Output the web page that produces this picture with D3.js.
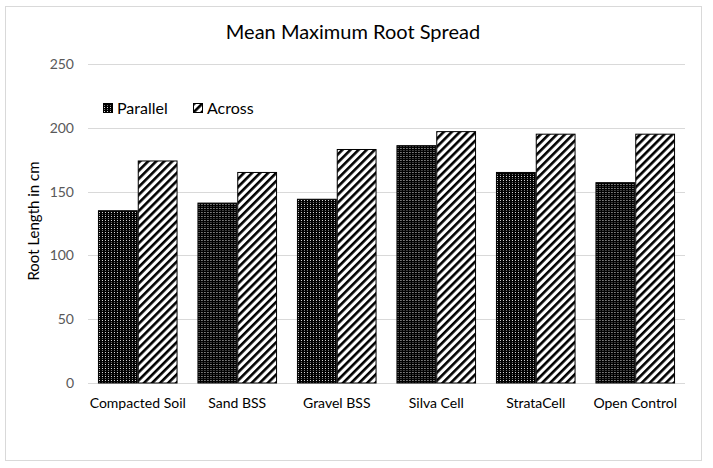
<!DOCTYPE html>
<html><head><meta charset="utf-8">
<script src="https://cdn.jsdelivr.net/npm/d3@7"></script>
<style>body{margin:0;background:#fff}svg{display:block}</style>
</head><body>
<svg id="c" width="713" height="468"></svg>
<script>
const categories = ["Compacted Soil","Sand BSS","Gravel BSS","Silva Cell","StrataCell","Open Control"];
const seriesNames = ["Parallel","Across"];
const parallel = [135, 141, 144, 186, 165, 157];
const across = [174, 165, 183, 197, 195, 195];
const yTicks = [0,50,100,150,200,250];

const svg = d3.select("#c");
const font = "Lato, 'Open Sans', sans-serif";
const defs = svg.append("defs");
const p1 = defs.append("pattern").attr("id","pPar").attr("patternUnits","userSpaceOnUse")
  .attr("width",3).attr("height",4);
p1.append("rect").attr("width",3).attr("height",4).attr("fill","#000");
p1.append("rect").attr("x",1).attr("y",0).attr("width",1).attr("height",1).attr("fill","#ddd");
p1.append("rect").attr("x",1).attr("y",2).attr("width",1).attr("height",1).attr("fill","#777");
const p2 = defs.append("pattern").attr("id","pAcr").attr("patternUnits","userSpaceOnUse")
  .attr("width",5.7).attr("height",5.7).attr("patternTransform","rotate(45)");
p2.append("rect").attr("width",5.7).attr("height",5.7).attr("fill","#fff");
p2.append("rect").attr("width",2.6).attr("height",5.7).attr("fill","#000");
const fills = ["url(#pPar)","url(#pAcr)"];

svg.append("rect").attr("x",5.5).attr("y",6.5).attr("width",696).attr("height",454)
  .attr("fill","#fff").attr("stroke","#d9d9d9");

const L = 88, R = 685, T = 64, B = 383;
const x = d3.scaleBand().domain(categories).range([L,R]).paddingInner(0.2).paddingOuter(0.1);
const xs = d3.scaleBand().domain(seriesNames).range([0,x.bandwidth()]);
const y = d3.scaleLinear().domain([0,250]).range([B,T]);

svg.append("g").selectAll("line").data(yTicks).join("line")
  .attr("x1",L).attr("x2",R).attr("y1",d=>Math.round(y(d))+0.5).attr("y2",d=>Math.round(y(d))+0.5)
  .attr("stroke","#d9d9d9");

const yAxis = svg.append("g").attr("transform",`translate(${L},0)`)
  .call(d3.axisLeft(y).tickValues(yTicks).tickSize(0).tickPadding(14));
yAxis.select(".domain").remove();
yAxis.selectAll("text").attr("font-family",font).attr("font-size",14).attr("fill","#595959");

const data = categories.map((c,i)=>({c, vals:[parallel[i],across[i]]}));
const g = svg.append("g").selectAll("g").data(data).join("g")
  .attr("transform",d=>`translate(${x(d.c)},0)`);
g.selectAll("rect").data(d=>d.vals.map((v,j)=>({v,s:seriesNames[j],j}))).join("rect")
  .attr("x",d=>xs(d.s)+0.5).attr("width",xs.bandwidth()-1)
  .attr("y",d=>y(d.v)).attr("height",d=>B-y(d.v))
  .attr("fill",d=>fills[d.j]).attr("stroke","#000").attr("stroke-width",1);

const xAxis = svg.append("g").attr("transform",`translate(0,${B})`)
  .call(d3.axisBottom(x).tickSize(0).tickPadding(15));
xAxis.select(".domain").remove();
xAxis.selectAll("text").attr("font-family",font).attr("font-size",14).attr("fill","#000");

svg.append("text").attr("x",353).attr("y",39).attr("text-anchor","middle")
  .attr("font-family",font).attr("font-size",20).attr("fill","#000").text("Mean Maximum Root Spread");

svg.append("text").attr("transform","translate(39,221) rotate(-90)").attr("text-anchor","middle")
  .attr("font-family",font).attr("font-size",15).attr("fill","#000").text("Root Length in cm");

const legX = [103,193];
const lg = svg.append("g").selectAll("g").data(seriesNames).join("g")
  .attr("transform",(d,i)=>`translate(${legX[i]},103)`);
lg.append("rect").attr("x",0.5).attr("y",0.5).attr("width",9).attr("height",9)
  .attr("fill",(d,i)=>fills[i]).attr("stroke","#000");
lg.append("text").attr("x",14).attr("y",10.5).attr("font-family",font).attr("font-size",16)
  .attr("fill","#000").text(d=>d);
</script>
</body></html>
